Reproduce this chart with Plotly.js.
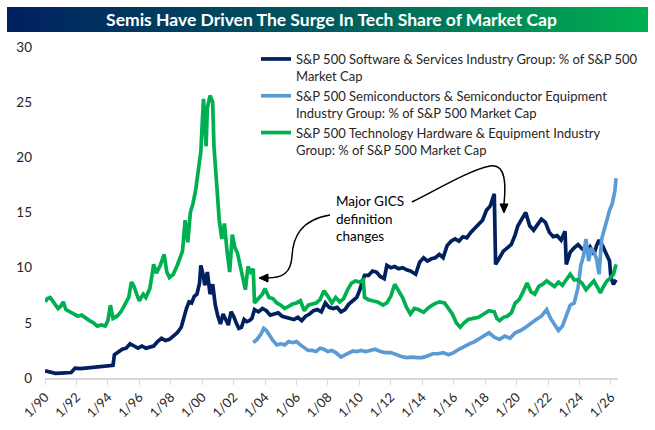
<!DOCTYPE html>
<html>
<head>
<meta charset="utf-8">
<script src="https://cdn.plot.ly/plotly-3.0.1.min.js"></script>
<style>
html,body{margin:0;padding:0;background:#fff;}
#chart{width:655px;height:430px;}
</style>
</head>
<body>
<div id="chart"></div>
<script>
// ---------- DATA ----------
const softDates = ["1990-01","1990-05","1990-09","1991-01","1991-05","1991-09","1991-12","1992-04","1992-08","1992-12","1993-04","1993-08","1993-12","1994-03","1994-05","1994-06","1994-09","1994-12","1995-03","1995-06","1995-09","1995-12","1996-03","1996-06","1996-09","1996-12","1997-03","1997-06","1997-09","1997-12","1998-03","1998-06","1998-09","1998-11","1999-01","1999-03","1999-05","1999-07","1999-09","1999-11","1999-12","2000-02","2000-03","2000-05","2000-07","2000-09","2000-11","2001-01","2001-03","2001-05","2001-07","2001-09","2001-11","2002-01","2002-03","2002-05","2002-07","2002-09","2002-11","2003-01","2003-03","2003-05","2003-08","2003-11","2004-02","2004-05","2004-08","2004-11","2005-02","2005-05","2005-08","2005-11","2006-02","2006-05","2006-08","2006-11","2007-02","2007-05","2007-08","2007-11","2008-02","2008-05","2008-08","2008-11","2009-02","2009-05","2009-08","2009-11","2010-01","2010-03","2010-05","2010-08","2010-11","2011-02","2011-05","2011-08","2011-10","2012-01","2012-04","2012-07","2012-10","2013-01","2013-04","2013-08","2013-11","2014-02","2014-05","2014-08","2014-11","2015-02","2015-05","2015-08","2015-11","2016-02","2016-05","2016-08","2016-11","2017-02","2017-05","2017-08","2017-11","2018-02","2018-05","2018-08","2018-09","2018-12","2019-03","2019-06","2019-09","2019-12","2020-02","2020-05","2020-08","2020-11","2021-02","2021-05","2021-08","2021-11","2022-02","2022-05","2022-08","2022-11","2023-02","2023-03","2023-06","2023-09","2023-12","2024-03","2024-06","2024-09","2024-12","2025-02","2025-04","2025-07","2025-10","2025-12","2026-01","2026-03","2026-05"];
const softVals = [0.65,0.55,0.42,0.45,0.5,0.5,0.9,0.85,0.9,0.95,1.0,1.05,1.1,1.2,1.15,2.1,2.4,2.6,2.7,3.1,2.9,2.7,2.9,2.7,2.8,2.9,3.3,3.6,3.4,3.5,3.8,4.1,4.6,5.5,6.3,6.9,6.8,7.4,7.6,8.6,10.2,9.2,8.4,9.6,7.6,8.5,6.6,5.6,4.9,5.8,5.2,4.8,6.0,5.6,5.0,4.5,4.6,5.3,5.1,5.2,5.4,6.2,6.0,6.3,6.1,5.7,5.8,5.9,5.6,5.5,5.4,5.3,5.5,5.2,5.6,5.8,6.1,6.2,6.0,6.8,6.4,6.3,6.4,6.0,6.2,6.7,7.0,7.3,7.9,8.6,9.3,9.3,9.7,9.6,9.2,9.0,10.2,10.0,10.1,9.9,10.0,9.8,9.7,9.4,10.5,10.9,10.6,10.8,10.9,11.2,10.9,12.0,12.4,12.6,12.4,12.8,12.7,13.2,13.6,14.0,14.3,15.2,15.6,16.7,10.3,10.9,11.5,11.8,12.1,13.0,13.8,14.4,15.0,13.8,13.4,13.9,14.4,14.1,13.2,12.8,12.9,12.5,13.3,10.3,11.4,11.8,12.1,11.7,11.5,11.9,11.2,12.0,12.5,11.9,11.0,10.6,9.1,8.5,8.9];

const semiDates = ["2003-04","2003-07","2003-10","2003-12","2004-02","2004-04","2004-07","2004-10","2005-01","2005-04","2005-07","2005-10","2006-01","2006-04","2006-07","2006-10","2007-01","2007-04","2007-07","2007-10","2008-01","2008-04","2008-07","2008-11","2009-02","2009-05","2009-08","2009-11","2010-02","2010-06","2010-09","2011-01","2011-05","2011-09","2012-01","2012-05","2012-09","2013-01","2013-05","2013-09","2014-01","2014-05","2014-09","2015-01","2015-05","2015-09","2016-01","2016-05","2016-09","2017-01","2017-05","2017-09","2018-01","2018-04","2018-08","2018-12","2019-04","2019-08","2019-12","2020-04","2020-08","2020-12","2021-04","2021-08","2021-12","2022-03","2022-06","2022-09","2022-12","2023-03","2023-06","2023-09","2023-12","2024-02","2024-04","2024-06","2024-08","2024-10","2024-12","2025-02","2025-04","2025-06","2025-08","2025-10","2025-12","2026-02","2026-04","2026-05"];
const semiVals = [3.2,3.5,4.0,4.5,4.3,3.9,3.4,3.0,3.1,3.0,3.3,3.2,3.3,3.0,2.7,2.5,2.5,2.4,2.7,2.6,2.4,2.5,2.3,1.9,2.1,2.3,2.45,2.4,2.5,2.4,2.5,2.6,2.4,2.3,2.3,2.1,1.95,1.85,1.9,1.85,1.85,2.0,2.2,2.2,2.3,2.1,2.3,2.6,2.9,3.1,3.3,3.6,3.9,4.1,3.7,3.5,3.8,3.6,4.1,4.3,4.6,5.0,5.3,5.6,6.2,5.4,4.8,4.3,4.7,5.6,6.6,6.8,8.2,10.2,11.0,12.6,10.6,11.8,11.4,10.8,9.4,12.6,13.5,14.1,15.2,15.8,16.9,18.1];

const hardDates = ["1990-01","1990-03","1990-05","1990-07","1990-09","1990-11","1991-01","1991-03","1991-05","1991-08","1991-11","1992-02","1992-05","1992-08","1992-11","1993-02","1993-05","1993-08","1993-11","1994-01","1994-03","1994-05","1994-08","1994-11","1995-02","1995-05","1995-07","1995-09","1995-11","1996-01","1996-04","1996-06","1996-09","1996-12","1997-02","1997-05","1997-08","1997-10","1997-12","1998-03","1998-06","1998-08","1998-10","1998-12","1999-02","1999-04","1999-06","1999-08","1999-10","1999-12","2000-01","2000-02","2000-04","2000-05","2000-07","2000-09","2000-10","2000-12","2001-02","2001-04","2001-06","2001-08","2001-10","2001-12","2002-02","2002-04","2002-06","2002-08","2002-10","2002-12","2003-02","2003-04","2003-05","2003-08","2003-11","2004-01","2004-04","2004-07","2004-10","2005-01","2005-04","2005-07","2005-10","2006-01","2006-04","2006-07","2006-10","2007-01","2007-04","2007-07","2007-10","2008-01","2008-04","2008-07","2008-10","2009-01","2009-04","2009-07","2009-10","2010-01","2010-04","2010-05","2010-08","2010-11","2011-03","2011-07","2011-10","2012-01","2012-04","2012-07","2012-10","2013-01","2013-04","2013-07","2013-10","2014-02","2014-06","2014-10","2015-02","2015-06","2015-09","2015-12","2016-03","2016-06","2016-09","2016-12","2017-04","2017-08","2017-12","2018-04","2018-08","2018-10","2018-12","2019-03","2019-06","2019-09","2019-12","2020-03","2020-06","2020-09","2020-12","2021-03","2021-06","2021-09","2021-12","2022-03","2022-06","2022-09","2022-12","2023-03","2023-06","2023-09","2023-12","2024-03","2024-06","2024-09","2024-12","2025-03","2025-05","2025-07","2025-10","2025-12","2026-03","2026-05"];
const hardVals = [6.9,7.2,7.3,7.0,6.6,6.3,6.5,6.9,6.2,6.0,5.8,5.6,5.7,5.4,5.2,5.0,4.7,4.8,4.7,5.2,6.6,5.4,5.6,6.0,6.6,7.3,8.7,8.3,7.6,7.0,7.6,7.3,8.1,10.3,9.5,10.2,11.2,9.6,9.1,9.4,10.2,10.9,11.5,14.3,12.3,15.0,15.8,17.0,18.5,20.5,23.0,25.3,21.0,24.5,25.6,25.0,21.0,17.9,14.3,12.6,14.0,11.5,9.6,13.0,11.8,11.3,10.1,9.0,8.0,10.1,9.6,9.9,6.8,7.2,7.6,8.1,7.3,7.2,6.8,6.6,6.3,6.5,6.7,6.8,7.0,6.1,6.6,6.7,6.8,7.1,7.9,7.4,6.8,7.3,6.9,7.2,8.0,8.6,8.8,8.7,8.9,7.3,7.1,7.0,6.9,6.6,6.8,7.4,8.5,7.9,7.3,6.4,5.8,6.3,6.2,5.95,6.4,6.7,6.9,6.8,6.3,5.8,5.0,4.6,5.0,5.3,5.4,5.5,5.8,6.1,6.0,5.4,5.2,5.5,5.6,5.9,6.8,7.1,7.8,8.6,7.8,7.6,8.3,8.5,8.8,8.6,8.3,8.7,8.4,8.9,9.4,8.9,8.9,8.6,8.0,8.4,8.8,8.2,7.7,8.2,8.8,9.0,9.4,10.3];

const seriesNames = [
  "S&P 500 Software & Services Industry Group: % of S&P 500<br>Market Cap",
  "S&P 500 Semiconductors & Semiconductor Equipment<br>Industry Group: % of S&P 500 Market Cap",
  "S&P 500 Technology Hardware & Equipment Industry<br>Group: % of S&P 500 Market Cap"
];
const tickDates = ["1990-01-01","1992-01-01","1994-01-01","1996-01-01","1998-01-01","2000-01-01","2002-01-01","2004-01-01","2006-01-01","2008-01-01","2010-01-01","2012-01-01","2014-01-01","2016-01-01","2018-01-01","2020-01-01","2022-01-01","2024-01-01","2026-01-01"];
const tickLabels = ["1/90","1/92","1/94","1/96","1/98","1/00","1/02","1/04","1/06","1/08","1/10","1/12","1/14","1/16","1/18","1/20","1/22","1/24","1/26"];
const chartTitle = "Semis Have Driven The Surge In Tech Share of Market Cap";
const noteText = "Major GICS<br>definition<br>changes";

// ---------- LAYOUT HELPERS ----------
const W = 655, H = 430, L = 45, R = 618, T = 47, B = 378;
function P(x, y) { return ((x - L) / (R - L)).toFixed(4) + "," + ((B - y) / (B - T)).toFixed(4); }

const gradSvg = "<svg xmlns='http://www.w3.org/2000/svg' width='641' height='25' preserveAspectRatio='none'><defs><linearGradient id='g' x1='0' y1='0' x2='1' y2='0'><stop offset='0' stop-color='#002060'/><stop offset='0.5' stop-color='#005a5e'/><stop offset='1' stop-color='#00B050'/></linearGradient></defs><rect width='641' height='25' fill='url(#g)'/></svg>";
const gradSrc = "data:image/svg+xml;charset=utf-8," + encodeURIComponent(gradSvg);

const colors = ["#002060", "#5B9BD5", "#00B050"];
const font = "Lato, 'Open Sans', sans-serif";

const traces = [
  {x: softDates, y: softVals, name: seriesNames[0], line: {color: colors[0], width: 3.7}},
  {x: semiDates, y: semiVals, name: seriesNames[1], line: {color: colors[1], width: 3.7}},
  {x: hardDates, y: hardVals, name: seriesNames[2], line: {color: colors[2], width: 3.7}}
].map(t => Object.assign({type: "scatter", mode: "lines", hoverinfo: "skip"}, t));

const arrowStyle = {type: "path", xref: "paper", yref: "paper", line: {color: "#000", width: 1.5}};
const headStyle = {type: "path", xref: "paper", yref: "paper", line: {color: "#000", width: 1}, fillcolor: "#000"};

const layout = {
  width: W, height: H,
  margin: {l: L, r: W - R, t: T, b: H - B},
  paper_bgcolor: "#fff", plot_bgcolor: "#fff",
  font: {family: font, size: 13, color: "#262626"},
  title: {text: "<b>" + chartTitle + "</b>", font: {family: font, size: 17.5, color: "#fff"},
          x: 0.5, xref: "paper", xanchor: "center", y: 1 - 20 / H, yref: "container", yanchor: "middle"},
  images: [{source: gradSrc, xref: "paper", yref: "paper",
            x: (7 - L) / (R - L), y: (B - 7) / (B - T), sizex: 641 / (R - L), sizey: 25 / (B - T),
            sizing: "stretch", xanchor: "left", yanchor: "top", layer: "below"}],
  xaxis: {type: "date", range: ["1990-01-01", "2026-06-15"], tickvals: tickDates, ticktext: tickLabels,
          tickangle: -45, showgrid: false, zeroline: false, showline: true, linecolor: "#d9d9d9", linewidth: 1.5,
          ticks: "outside", ticklen: 5, tickcolor: "#d9d9d9", tickfont: {size: 13}},
  yaxis: {range: [0, 30], dtick: 5, tick0: 0, showgrid: false, zeroline: false, showline: false,
          ticks: "", ticklabelstandoff: 12, tickfont: {size: 13.5}},
  showlegend: true,
  legend: {x: (256 - L) / (R - L), xanchor: "left", y: (B - 44) / (B - T), yanchor: "top",
           font: {family: font, size: 13, color: "#262626"}, bgcolor: "rgba(0,0,0,0)",
           valign: "top", tracegroupgap: 3},
  annotations: [{xref: "paper", yref: "paper", x: (334 - L) / (R - L), y: (B - 191) / (B - T),
                 xanchor: "left", yanchor: "top", align: "left", showarrow: false,
                 text: noteText, font: {family: font, size: 13.5, color: "#000"}}],
  shapes: [
    Object.assign({path: "M" + P(330, 215) + " C" + P(300, 220) + " " + P(293, 238) + " " + P(292, 256) + " C" + P(291, 272) + " " + P(284, 278) + " " + P(267, 278)}, arrowStyle),
    Object.assign({path: "M" + P(259, 278) + " L" + P(268, 274) + " L" + P(268, 282) + " Z"}, headStyle),
    Object.assign({path: "M" + P(412, 202) + " C" + P(440, 188) + " " + P(470, 170) + " " + P(490, 166) + " C" + P(506, 163) + " " + P(506, 185) + " " + P(504, 204)}, arrowStyle),
    Object.assign({path: "M" + P(504, 213) + " L" + P(500, 204) + " L" + P(508, 204) + " Z"}, headStyle)
  ]
};

Plotly.newPlot("chart", traces, layout, {staticPlot: true, displayModeBar: false});
</script>
</body>
</html>
